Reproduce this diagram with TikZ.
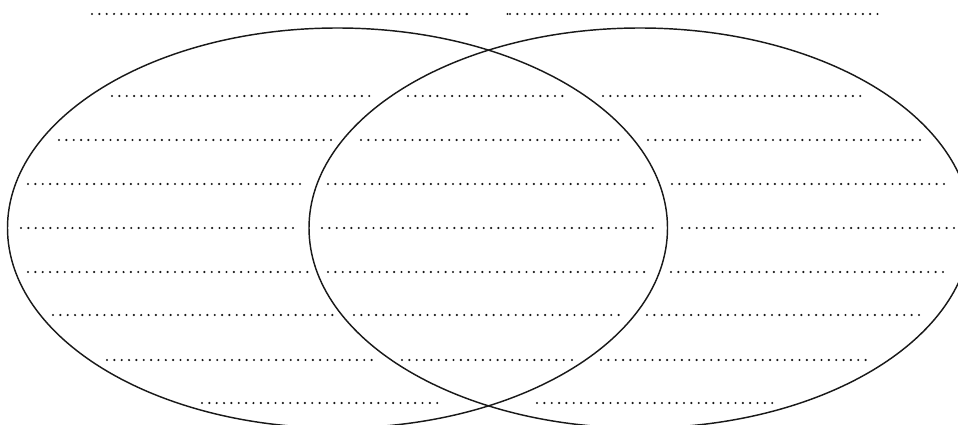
\documentclass[tikz,border=0pt]{standalone}
\begin{document}
\begin{tikzpicture}[x=1pt,y=-1pt,
  ring/.style={draw=black!90, line width=1.45pt},
  dotrow/.style={line width=2.4pt, line cap=round, dash pattern=on 0pt off 7.35pt, black!90}]
\useasboundingbox (0,0) rectangle (958,425);
\begin{scope}
\clip (0,0) rectangle (958,425);
\draw[ring] (337.5,228) ellipse [x radius=330, y radius=200];
\draw[ring] (640,228) ellipse [x radius=331, y radius=200];
\end{scope}
\foreach \y/\a/\b in {
  14/92/469, 14/510/884,
  96/112/376, 96/408/569, 96/603/865,
  140/59/331, 140/361/622, 140/648/920,
  184/28/306, 184/328/647, 184/672/949,
  228/21/296, 228/322/655, 228/682/957,
  272/28/307, 272/328/647, 272/671/948,
  315/53/332, 315/354/620, 315/647/924,
  360/107/377, 360/402/566, 360/601/870,
  403/202/442, 403/537/777}
  \draw[dotrow] (\a,\y) -- (\b+0.5,\y);
\fill[black!90] (466.5,14) circle (1.2pt);
\fill[black!90] (507.5,14) circle (1.2pt);
\fill[black!90] (572,360) circle (1.2pt);
\end{tikzpicture}
\end{document}
